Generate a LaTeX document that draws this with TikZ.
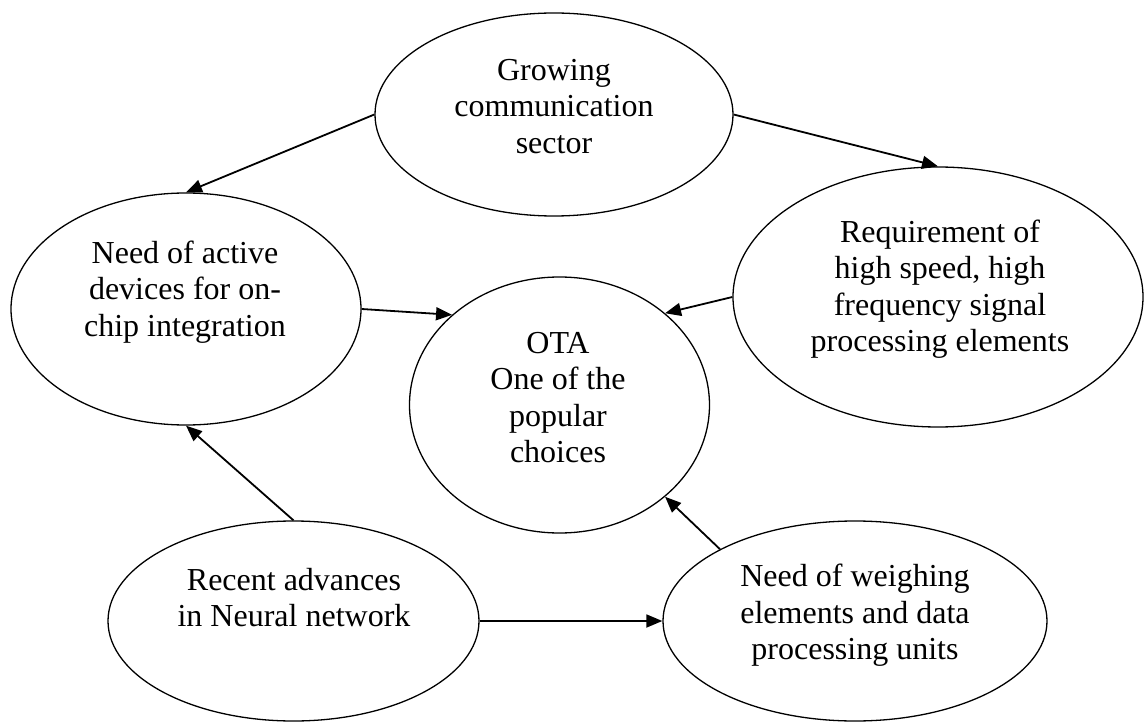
\documentclass[tikz,border=0pt]{standalone}
\usepackage{fontspec}
\setmainfont{Liberation Serif}
\usetikzlibrary{shapes.geometric, arrows.meta}
\tikzset{
   bubble/.style={draw, ellipse, line width=1.3pt, inner sep=0pt},
   bubbletext/.style={align=center, inner sep=0pt, font=\fontsize{32}{36.5}\selectfont},
   flow/.style={-{Triangle[length=16pt, width=13pt]}, line width=1.8pt}
}
\begin{document}
\begin{tikzpicture}[x=1pt, y=-1pt]
            \useasboundingbox (0,0) rectangle (1144,722);
            % Ellipses
            \node[bubble, minimum width=358pt, minimum height=203pt] (grow) at (554,114.5) {};
            \node[bubble, minimum width=350pt, minimum height=232pt] (active) at (186,309) {};
            \node[bubble, minimum width=410pt, minimum height=260pt] (req) at (938,297) {};
            \node[bubble, minimum width=300pt, minimum height=256pt] (ota) at (559.5,405) {};
            \node[bubble, minimum width=371pt, minimum height=200pt] (neural) at (293.5,621) {};
            \node[bubble, minimum width=384pt, minimum height=200pt] (weigh) at (855,621) {};
            % Texts inside the ellipses
            \node[bubbletext] (growtxt) at (554,106.5) {Growing\\communication\\sector};
            \node[bubbletext] (activetxt) at (185,292) {Need of active\\devices for on-\\chip integration};
            \node[bubbletext] (reqtxt) at (940,289) {Requirement of\\high speed, high\\frequency signal\\processing elements};
            \node[bubbletext] (otatxt) at (558,397.5) {OTA\\One of the\\popular\\choices};
            \node[bubbletext] (neuraltxt) at (294,597.5) {Recent advances\\in Neural network};
            \node[bubbletext] (weightxt) at (855,615.5) {Need of weighing\\elements and data\\processing units};
            % Arrows
            \draw[flow] (grow.west) -- (active.north);
            \draw[flow] (grow.east) -- (req.north);
            \draw[flow] (active.east) -- (ota.140);
            \draw[flow] (req.west) -- (ota.41);
            \draw[flow] (weigh.152) -- (ota.319);
            \draw[flow] (neural.north) -- (active.south);
            \draw[flow] (neural.east) -- (weigh.west);
\end{tikzpicture}
\end{document}
